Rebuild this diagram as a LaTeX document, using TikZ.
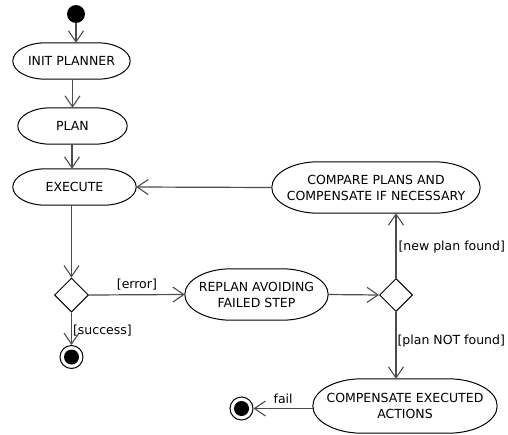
\documentclass[tikz,border=0pt]{standalone}
\usepackage{fontspec}
\setmainfont{DejaVu Sans}
\usetikzlibrary{arrows.meta,shapes.geometric,calc}
\tikzset{
  box/.style={rectangle, inner sep=0pt, align=center, font=\fontsize{12.5}{16}\selectfont},
  lbl/.style={inner sep=0pt, font=\fontsize{12.5}{15}\selectfont, text=black},
  conn/.style={draw=black!70, line width=1.2pt},
  arr/.style={conn, -{Straight Barb[length=11pt,width=15pt,line width=1.1pt]}},
  dec/.style={diamond, draw=black, line width=1pt, minimum width=34pt, minimum height=34pt, inner sep=0pt},
}
\newcommand\capsule[1]{%
  \draw[line width=1pt] let \p1=(#1.north west), \p2=(#1.south east),
    \n1={(\y1-\y2)/2}, \n2={1.8*\n1} in
    (\x1+\n2,\y1) -- (\x2-\n2,\y1)
    arc[start angle=90,end angle=-90,x radius=\n2,y radius=\n1]
    -- (\x1+\n2,\y2)
    arc[start angle=270,end angle=90,x radius=\n2,y radius=\n1] -- cycle;}
\begin{document}
\begin{tikzpicture}[x=1pt,y=-1pt]
\useasboundingbox (0,0) rectangle (508,434);
% nodes
\node[circle, fill=black, minimum size=18pt, inner sep=0pt] (start) at (76,14) {};
\node[box, minimum width=117pt, minimum height=36pt] (init) at (71.5,61) {INIT PLANNER};
\node[box, minimum width=109pt, minimum height=36pt] (plan) at (72.5,126) {PLAN};
\node[box, minimum width=123pt, minimum height=36pt] (exec) at (74.5,187) {EXECUTE};
\node[box, minimum width=208pt, minimum height=51pt] (cmp) at (376,187.5) {COMPARE PLANS AND\\COMPENSATE IF NECESSARY};
\node[dec] (d1) at (71.5,295) {};
\node[box, minimum width=143pt, minimum height=51pt] (rep) at (256.5,294.5) {REPLAN AVOIDING\\FAILED STEP};
\node[dec, minimum width=33pt, minimum height=33pt] (d2) at (396,295) {};
\node[box, minimum width=184pt, minimum height=54pt] (comp) at (405,406) {COMPENSATE EXECUTED\\ACTIONS};
\node[circle, draw=black, line width=1pt, minimum size=23pt, inner sep=0pt] (end1) at (71.5,357) {};
\node[circle, fill=black, minimum size=15pt, inner sep=0pt] at (end1) {};
\node[circle, draw=black, line width=1pt, minimum size=23pt, inner sep=0pt] (end2) at (241.5,408.5) {};
\node[circle, fill=black, minimum size=15pt, inner sep=0pt] at (end2) {};
\capsule{init}
\capsule{plan}
\capsule{exec}
\capsule{cmp}
\capsule{rep}
\capsule{comp}
% connectors
\draw[arr] (start) -- (start |- init.north);
\draw[arr] (init.south -| plan.north) -- (plan.north);
\draw[arr] (plan.south -| 72,0) -- (exec.north -| 72,0);
\draw[arr] (cmp.west) -- (exec.east);
\draw[arr] (exec.south -| d1.north) -- (d1.north);
\draw[arr] (d1.east) -- (rep.west) node[lbl, midway, above=4pt] {[error]};
\draw[arr] (d1.south) -- (end1.north) node[lbl, anchor=west, pos=0.55, xshift=1pt] {[success]};
\draw[arr] (rep.east) -- (d2.west);
\draw[arr] (d2.north) -- (d2.north |- cmp.south) node[lbl, anchor=west, midway, xshift=2pt, yshift=-1pt] {[new plan found]};
\draw[arr] (d2.south) -- (d2.south |- comp.north) node[lbl, anchor=west, pos=0.43, xshift=1pt] {[plan NOT found]};
\draw[arr] (comp.west |- end2) -- (end2.east) node[lbl, midway, above=4pt] {fail};
\end{tikzpicture}
\end{document}
